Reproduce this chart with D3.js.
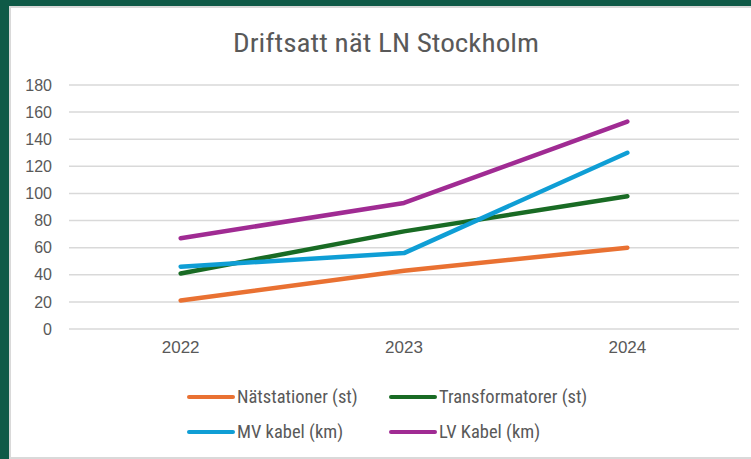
<!DOCTYPE html>
<html>
<head>
<meta charset="utf-8">
<script src="https://cdn.jsdelivr.net/npm/d3@7"></script>
<style>
body { margin: 0; background: #ffffff; }
svg { display: block; }
</style>
</head>
<body>
<svg></svg>
<script>
var years = ["2022", "2023", "2024"];
var seriesNames = ["Nätstationer (st)", "Transformatorer (st)", "MV kabel (km)", "LV Kabel (km)"];
var natstationer = [21, 43, 60];
var transformatorer = [41, 72, 98];
var mvKabel = [46, 56, 130];
var lvKabel = [67, 93, 153];
var yTicks = [0, 20, 40, 60, 80, 100, 120, 140, 160, 180];
var colors = ["#E97132", "#196B24", "#0F9ED5", "#A02B93"];

var width = 751;
var height = 459;
var svgCanvas = d3.select("svg")
    .attr("width", width)
    .attr("height", height);

// frame
svgCanvas.append("rect")
    .attr("width", width).attr("height", height)
    .attr("fill", "#0F5A47");
svgCanvas.append("rect")
    .attr("x", 9).attr("y", 6)
    .attr("width", width - 9).attr("height", height - 6)
    .attr("fill", "#d9d9d9");
svgCanvas.append("rect")
    .attr("x", 11).attr("y", 8)
    .attr("width", width - 11).attr("height", 449)
    .attr("fill", "#ffffff");

svgCanvas.append("text")
    .attr("x", 233).attr("y", 52)
    .attr("textLength", 306)
    .attr("lengthAdjust", "spacingAndGlyphs")
    .attr("font-family", "'Liberation Sans Narrow', 'Roboto Condensed', Roboto, sans-serif")
    .attr("font-size", "25px")
    .attr("fill", "#595959")
    .text("Driftsatt nät LN Stockholm");

var margin = {top: 85, left: 69, right: 12, bottom: 130};
var plotW = width - margin.left - margin.right;
var plotH = height - margin.top - margin.bottom;

var x = d3.scaleBand().domain(years).range([0, plotW]);
var y = d3.scaleLinear().domain([0, 180]).range([plotH, 0]);

var chartArea = svgCanvas.append("g")
    .attr("transform", "translate(" + margin.left + "," + margin.top + ")");

// grid
chartArea.selectAll("line.grid")
    .data(yTicks).enter()
    .append("line")
    .attr("class", "grid")
    .attr("x1", 0).attr("x2", plotW)
    .attr("y1", function (d) { return y(d); })
    .attr("y2", function (d) { return y(d); })
    .attr("stroke", "#d9d9d9")
    .attr("stroke-width", 1.5);

var yAxis = chartArea.append("g")
    .call(d3.axisLeft(y).tickValues(yTicks).tickSize(0).tickPadding(17));
yAxis.select(".domain").remove();
yAxis.selectAll("text")
    .attr("font-family", "'Liberation Sans', Arial, sans-serif")
    .attr("font-size", "16px")
    .attr("fill", "#595959");

var xAxis = chartArea.append("g")
    .attr("transform", "translate(0," + plotH + ")")
    .call(d3.axisBottom(x).tickSize(0).tickPadding(12));
xAxis.select(".domain").remove();
xAxis.selectAll("text")
    .attr("font-family", "'Liberation Sans', Arial, sans-serif")
    .attr("font-size", "17px")
    .attr("fill", "#595959");

var allSeries = [natstationer, transformatorer, mvKabel, lvKabel];

var line = d3.line()
    .x(function (d, i) { return x(years[i]) + x.bandwidth() / 2; })
    .y(function (d) { return y(d); });

chartArea.selectAll("path.series")
    .data(allSeries).enter()
    .append("path")
    .attr("class", "series")
    .attr("d", function (d) { return line(d); })
    .attr("fill", "none")
    .attr("stroke", function (d, i) { return colors[i]; })
    .attr("stroke-width", 4.5)
    .attr("stroke-linecap", "round")
    .attr("stroke-linejoin", "round");

// legend
var legendPos = [[189, 397], [391, 397], [189, 432], [391, 432]];
var legend = svgCanvas.selectAll("g.legend")
    .data(seriesNames).enter()
    .append("g")
    .attr("class", "legend")
    .attr("transform", function (d, i) { return "translate(" + legendPos[i][0] + "," + legendPos[i][1] + ")"; });
legend.append("line")
    .attr("x1", 0).attr("x2", 44)
    .attr("stroke", function (d, i) { return colors[i]; })
    .attr("stroke-width", 4)
    .attr("stroke-linecap", "round");
legend.append("text")
    .attr("x", 48).attr("y", 6)
    .attr("font-family", "'Liberation Sans Narrow', 'Roboto Condensed', Roboto, sans-serif")
    .attr("font-size", "18.5px")
    .attr("fill", "#595959")
    .text(function (d) { return d; });
</script>
</body>
</html>
